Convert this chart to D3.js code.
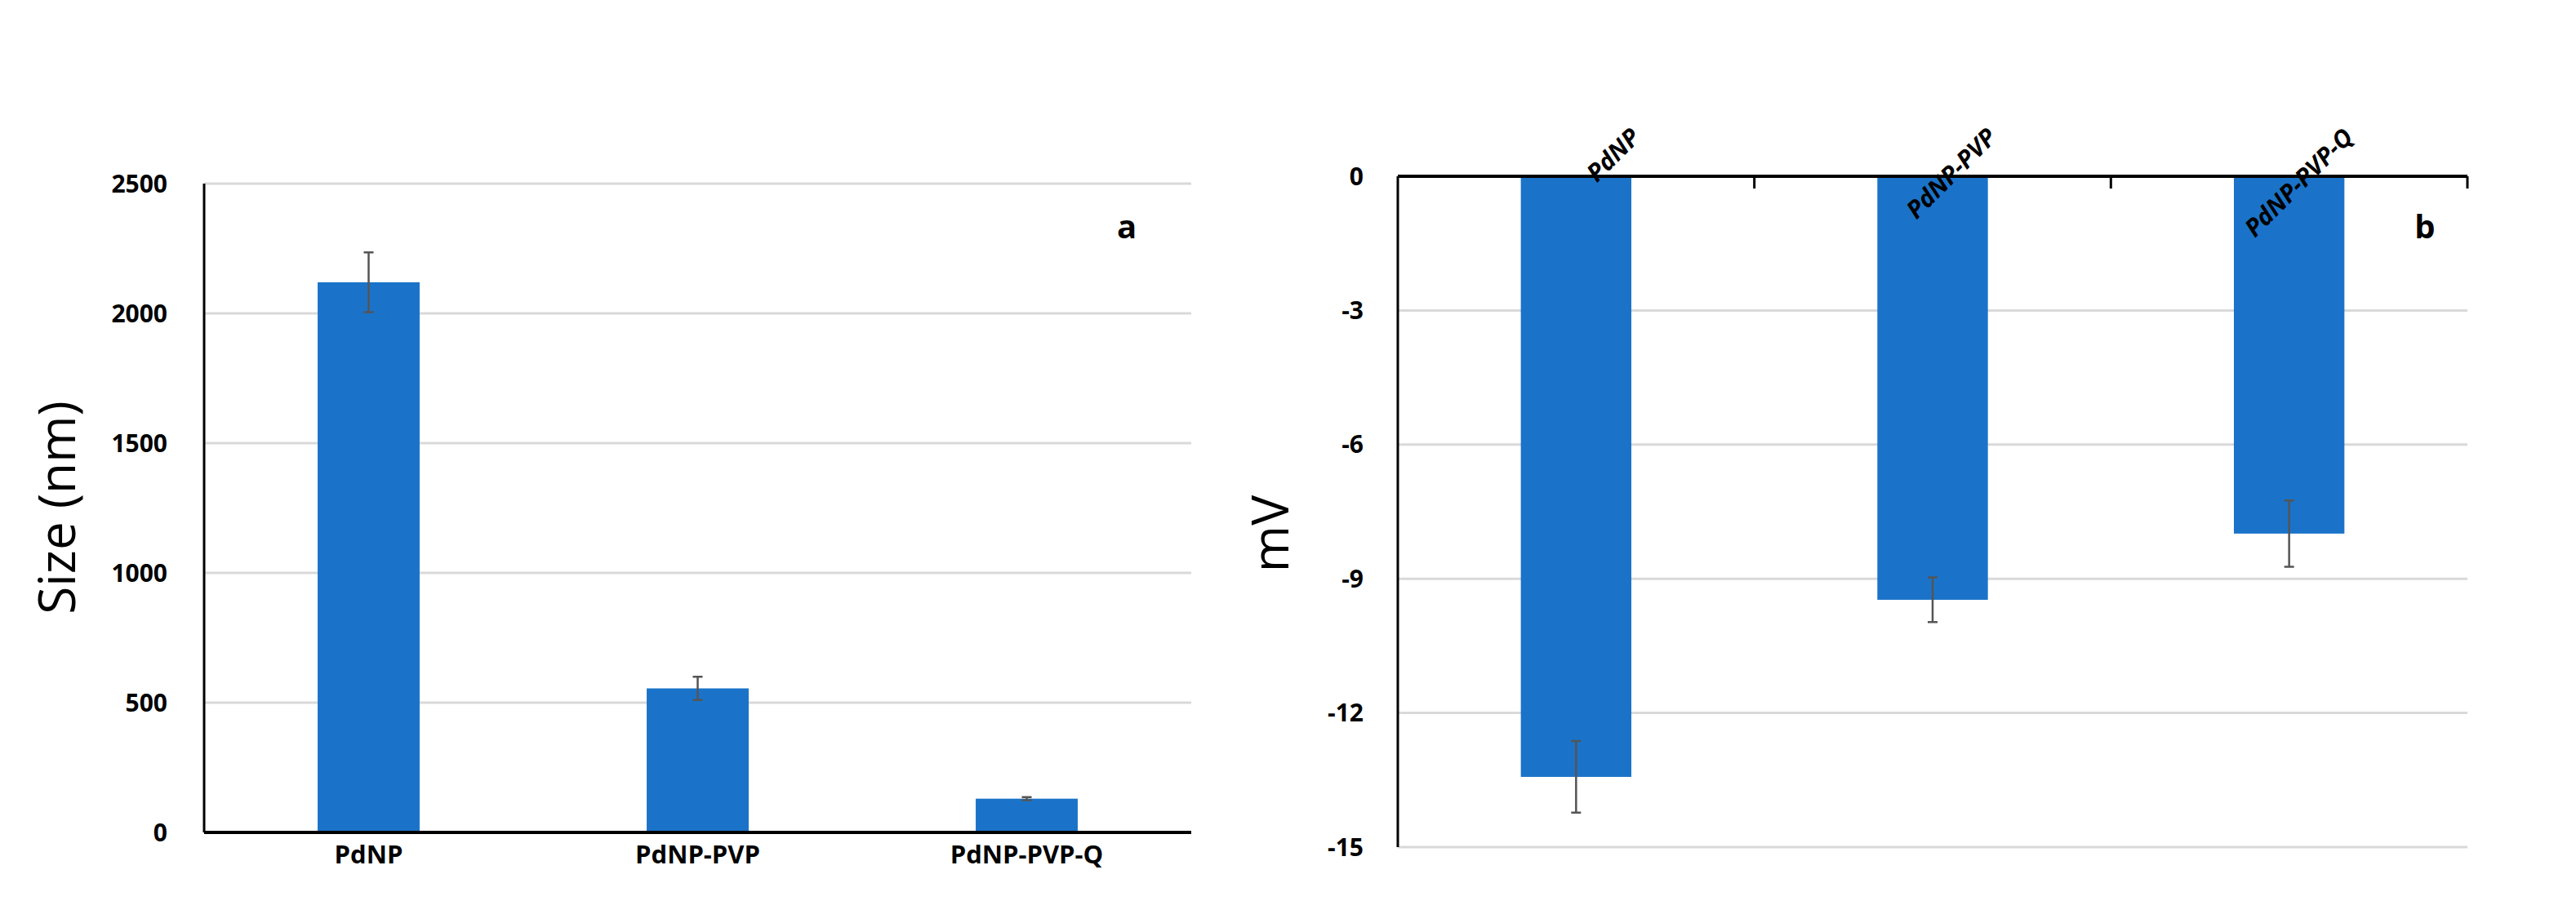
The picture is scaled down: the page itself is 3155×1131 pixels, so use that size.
<!DOCTYPE html>
<html><head><meta charset="utf-8">
<script src="https://cdn.jsdelivr.net/npm/d3@7"></script>
<style>body{margin:0;background:#fff}</style></head>
<body><svg id="c" width="3155" height="1131"></svg>
<script>
const categories = ["PdNP", "PdNP-PVP", "PdNP-PVP-Q"];
const sizeValues = [2120, 555, 130];
const sizeErrors = [115, 45, 6];
const sizeTicks = [0, 500, 1000, 1500, 2000, 2500];
const zetaValues = [-13.43, -9.47, -7.99];
const zetaErrors = [0.8, 0.5, 0.74];
const zetaTicks = [0, -3, -6, -9, -12, -15];

const svg = d3.select("#c");
const blue = "#1a73c9", grid = "#d9d9d9", font = "'Open Sans', 'Liberation Sans', sans-serif";

// Panel a
{
  const x = d3.scaleBand().domain(categories).range([250, 1459]).paddingInner(0.69).paddingOuter(0.345);
  const y = d3.scaleLinear().domain([0, 2500]).range([1020, 225]);
  const g = svg.append("g");
  g.selectAll(".g").data(sizeTicks.filter(d => d > 0)).join("line")
    .attr("x1", 250).attr("x2", 1459).attr("y1", d => y(d)).attr("y2", d => y(d))
    .attr("stroke", grid).attr("stroke-width", 3);
  g.selectAll(".bar").data(categories).join("rect")
    .attr("x", d => x(d)).attr("width", x.bandwidth())
    .attr("y", (d, i) => y(sizeValues[i])).attr("height", (d, i) => y(0) - y(sizeValues[i]))
    .attr("fill", blue);
  categories.forEach((c, i) => {
    const cx = x(c) + x.bandwidth() / 2, t = y(sizeValues[i] + sizeErrors[i]), b = y(sizeValues[i] - sizeErrors[i]);
    g.append("path").attr("d", `M${cx},${t}V${b}M${cx-6},${t}H${cx+6}M${cx-6},${b}H${cx+6}`)
      .attr("stroke", "#555").attr("stroke-width", 2.5).attr("fill", "none");
  });
  g.append("line").attr("x1", 250).attr("x2", 250).attr("y1", 225).attr("y2", 1020).attr("stroke", "#000").attr("stroke-width", 3);
  g.append("line").attr("x1", 250).attr("x2", 1459).attr("y1", 1020).attr("y2", 1020).attr("stroke", "#000").attr("stroke-width", 4);
  g.selectAll(".tl").data(sizeTicks).join("text")
    .attr("x", 205).attr("y", d => y(d)).attr("dy", "0.35em").attr("text-anchor", "end")
    .attr("font-family", font).attr("font-weight", "bold").attr("font-size", 30).text(d => d);
  g.selectAll(".cl").data(categories).join("text")
    .attr("x", d => x(d) + x.bandwidth() / 2).attr("y", 1058).attr("text-anchor", "middle")
    .attr("font-family", font).attr("font-weight", "bold").attr("font-size", 31).text(d => d);
  g.append("text").attr("transform", "translate(92,622) rotate(-90)").attr("text-anchor", "middle")
    .attr("font-family", font).attr("font-size", 62).text("Size (nm)");
  g.append("text").attr("x", 1380).attr("y", 292).attr("text-anchor", "middle")
    .attr("font-family", font).attr("font-weight", "bold").attr("font-size", 40).text("a");
}

// Panel b
{
  const x = d3.scaleBand().domain(categories).range([1712, 3022]).paddingInner(0.69).paddingOuter(0.345);
  const xb = d3.scaleBand().domain(categories).range([1712, 3022]);
  const y = d3.scaleLinear().domain([0, -15]).range([216, 1038]);
  const g = svg.append("g");
  g.selectAll(".g").data(zetaTicks.filter(d => d < 0)).join("line")
    .attr("x1", 1712).attr("x2", 3022).attr("y1", d => y(d)).attr("y2", d => y(d))
    .attr("stroke", grid).attr("stroke-width", 3);
  g.selectAll(".bar").data(categories).join("rect")
    .attr("x", d => x(d)).attr("width", x.bandwidth())
    .attr("y", y(0)).attr("height", (d, i) => y(zetaValues[i]) - y(0))
    .attr("fill", blue);
  categories.forEach((c, i) => {
    const cx = x(c) + x.bandwidth() / 2, t = y(zetaValues[i] + zetaErrors[i]), b = y(zetaValues[i] - zetaErrors[i]);
    g.append("path").attr("d", `M${cx},${t}V${b}M${cx-6},${t}H${cx+6}M${cx-6},${b}H${cx+6}`)
      .attr("stroke", "#555").attr("stroke-width", 2.5).attr("fill", "none");
  });
  g.append("line").attr("x1", 1712).attr("x2", 1712).attr("y1", 216).attr("y2", 1038).attr("stroke", "#000").attr("stroke-width", 3);
  g.append("line").attr("x1", 1712).attr("x2", 3022).attr("y1", 216).attr("y2", 216).attr("stroke", "#000").attr("stroke-width", 4);
  const bounds = categories.map(c => xb(c)).concat([3022]).slice(1);
  g.selectAll(".tk").data(bounds).join("line")
    .attr("x1", d => d).attr("x2", d => d).attr("y1", 216).attr("y2", 231).attr("stroke", "#000").attr("stroke-width", 3);
  g.selectAll(".tl").data(zetaTicks).join("text")
    .attr("x", 1670).attr("y", d => y(d)).attr("dy", "0.35em").attr("text-anchor", "end")
    .attr("font-family", font).attr("font-weight", "bold").attr("font-size", 30).text(d => d);
  g.selectAll(".cl").data(categories).join("text")
    .attr("transform", d => `translate(${x(d) + x.bandwidth() / 2 + 80},170) rotate(-45)`)
    .attr("text-anchor", "end")
    .attr("font-family", font).attr("font-weight", "bold").attr("font-style", "italic").attr("font-size", 30).text(d => d);
  g.append("text").attr("transform", "translate(1578,654) rotate(-90)").attr("text-anchor", "middle")
    .attr("font-family", font).attr("font-size", 62).text("mV");
  g.append("text").attr("x", 2970).attr("y", 292).attr("text-anchor", "middle")
    .attr("font-family", font).attr("font-weight", "bold").attr("font-size", 40).text("b");
}
</script></body></html>
